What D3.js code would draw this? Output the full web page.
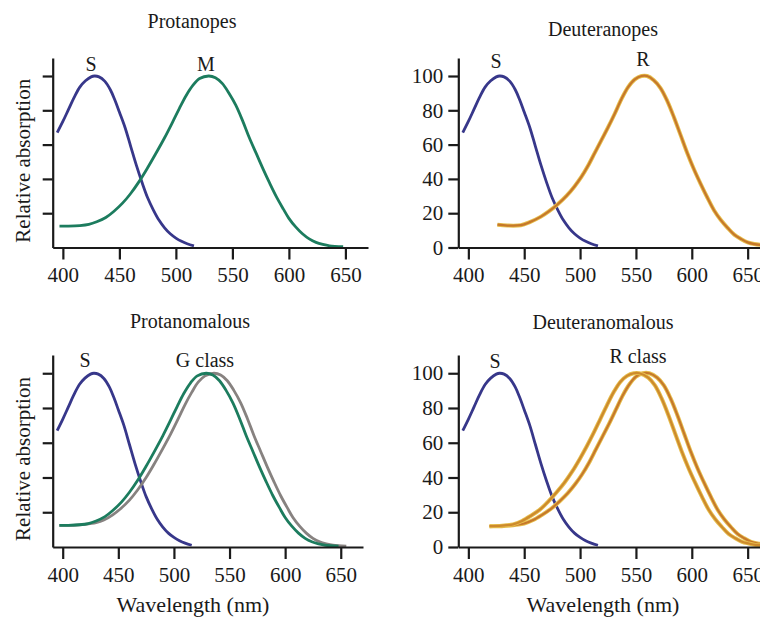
<!DOCTYPE html>
<html>
<head>
<meta charset="utf-8">
<script src="https://cdn.jsdelivr.net/npm/d3@7"></script>
<style>
  body { margin: 0; background: #fff; }
  text { font-family: 'Liberation Serif', 'Times New Roman', serif; fill: #1a1a1a; }
</style>
</head>
<body>
<svg id="chart" width="760" height="618"></svg>
<script>
'use strict'

// wavelength (nm), relative absorption (%)
const sCone = [[395, 67], [400, 73.5], [405, 80.5], [410, 87.5], [415, 93.5], [420, 97.2], [425, 99.5], [428, 100], [432, 99.5], [437, 97], [442, 92], [446, 86], [450, 79], [455, 70], [460, 59], [465, 48], [470, 38], [475, 29], [480, 22], [485, 16], [490, 11.5], [495, 8], [500, 5.5], [505, 3.6], [510, 2.2], [516, 1]]
const mCone = [[397, 12.5], [405, 12.5], [415, 12.8], [423, 13.5], [430, 15], [438, 17.5], [445, 21], [453, 26], [460, 31.5], [468, 39], [475, 46.5], [482, 54.5], [490, 64], [497, 73], [503, 81], [509, 88.5], [515, 94.5], [521, 98.5], [529, 100], [535, 99], [541, 95.7], [547, 90], [553, 83], [559, 74], [565, 64], [571, 55], [577, 46], [583, 37.5], [589, 29.5], [595, 22.5], [600, 17], [606, 12], [612, 8], [618, 5], [624, 3], [630, 1.8], [636, 1], [648, 0.5]]
const gClassShifted = [[397, 12.5], [410, 12.5], [420, 13], [430, 14], [437, 15.5], [445, 18.5], [452, 22], [460, 27], [467, 32.5], [475, 40], [482, 47.5], [489, 55.5], [497, 65], [504, 74], [510, 82], [516, 89], [522, 95], [528, 98.5], [536, 100], [542, 99], [548, 95.7], [554, 90], [560, 83], [566, 74], [572, 64], [578, 55], [584, 46], [590, 37.5], [596, 29.5], [602, 22.5], [607, 17], [613, 12], [619, 8], [625, 5], [631, 3], [637, 1.8], [643, 1], [655, 0.5]]
const rCone = [[426, 13.3], [435, 12.8], [447, 13], [455, 14.8], [465, 18], [472, 21], [480, 25.2], [488, 30.2], [495, 35.6], [501, 41], [507, 47.5], [513, 55], [519, 62.5], [525, 70], [531, 78], [537, 86.5], [543, 93.5], [549, 98], [555, 100], [560, 100], [566, 97.5], [572, 93], [578, 85.5], [584, 76], [590, 65.5], [596, 55], [602, 45.5], [608, 37], [614, 29], [620, 21.6], [626, 16], [632, 11.5], [638, 7.5], [644, 5], [650, 3], [656, 2], [662, 1.5]]
const rClassLeft = [[419, 12], [430, 12.3], [440, 13], [448, 15], [456, 18], [464, 21.5], [472, 26.5], [479, 31.5], [486, 37], [493, 43.5], [500, 51], [506, 58], [512, 65.5], [518, 73.5], [524, 81.5], [530, 89], [536, 95], [542, 98.5], [548, 100], [553, 100], [561, 97.5], [567, 93], [573, 85.5], [579, 76], [585, 65.5], [591, 55], [597, 45.5], [603, 37], [609, 29], [615, 21.6], [621, 16], [627, 11.5], [633, 7.5], [639, 5], [645, 3], [651, 2], [657, 1.2], [663, 1]]
const rClassRight = [[419, 12], [430, 12], [440, 12.5], [450, 13.5], [458, 15.5], [466, 18.5], [474, 22], [482, 26.5], [489, 31], [496, 36.5], [502, 42], [508, 48.5], [514, 56], [520, 63.5], [526, 71], [532, 79], [538, 87], [544, 93.5], [550, 98], [556, 100], [562, 100], [569, 97.5], [575, 93], [581, 85.5], [587, 76], [593, 65.5], [599, 55], [605, 45.5], [611, 37], [617, 29], [623, 21.6], [629, 16], [635, 11.5], [641, 7.5], [647, 5], [653, 3], [659, 2], [665, 1.5]]

const xTicks = [400, 450, 500, 550, 600, 650]
const yTicks = [0, 20, 40, 60, 80, 100]

const BLUE = '#37378a'
const GREEN = '#1c7c5e'
const GRAY = '#878280'
const ORANGE = '#c6782a'
const HALO = '#e6be4e'

const panels = [
  {
    title: 'Protanopes', titleX: 192, titleY: 28,
    left: 52.7, right: 368, top: 58, bottom: 247.5, yLabels: false,
    yTitle: true, xTitle: null,
    labels: [{ t: 'S', x: 91, y: 71 }, { t: 'M', x: 206, y: 71 }],
    curves: [{ d: sCone, c: BLUE }, { d: mCone, c: GREEN }]
  },
  {
    title: 'Deuteranopes', titleX: 603, titleY: 36,
    left: 458.3, right: 770, top: 58, bottom: 247.5, yLabels: true,
    yTitle: false, xTitle: null,
    labels: [{ t: 'S', x: 496, y: 68 }, { t: 'R', x: 643, y: 66 }],
    curves: [{ d: sCone, c: BLUE }, { d: rCone, c: ORANGE, halo: true }]
  },
  {
    title: 'Protanomalous', titleX: 190, titleY: 328,
    left: 52.7, right: 363, top: 355, bottom: 547, yLabels: false,
    yTitle: true, xTitle: 193,
    labels: [{ t: 'S', x: 85, y: 367 }, { t: 'G class', x: 205, y: 367 }],
    curves: [{ d: sCone, c: BLUE }, { d: gClassShifted, c: GRAY }, { d: mCone, c: GREEN }]
  },
  {
    title: 'Deuteranomalous', titleX: 603, titleY: 329,
    left: 458.3, right: 770, top: 355, bottom: 547, yLabels: true,
    yTitle: false, xTitle: 603,
    labels: [{ t: 'S', x: 495, y: 368 }, { t: 'R class', x: 638, y: 363 }],
    curves: [{ d: sCone, c: BLUE }, { d: rClassRight, c: ORANGE, halo: true }, { d: rClassLeft, c: '#cd8a2c', halo: true }]
  }
]

const svg = d3.select('#chart')

function drawPanel (p) {
  const x = d3.scaleLinear().domain([391, 670]).range([p.left, p.right])
  const y = d3.scaleLinear().domain([0, 110.5]).range([p.bottom, p.top])
  const g = svg.append('g')

  const line = d3.line()
    .x(d => x(d[0]))
    .y(d => y(d[1]))
    .curve(d3.curveCatmullRom.alpha(0.5))

  p.curves.forEach(c => {
    if (c.halo) {
      g.append('path').datum(c.d).attr('d', line)
        .attr('fill', 'none').attr('stroke', HALO).attr('stroke-width', 4)
    }
    g.append('path').datum(c.d).attr('d', line)
      .attr('fill', 'none').attr('stroke', c.c)
      .attr('stroke-width', c.halo ? 2.2 : 2.8)
      .attr('stroke-linejoin', 'round')
  })

  const xAxis = g.append('g')
    .attr('transform', `translate(0,${p.bottom})`)
    .call(d3.axisBottom(x).tickValues(xTicks).tickSize(12).tickPadding(8).tickSizeOuter(0))
  const yAxis = g.append('g')
    .attr('transform', `translate(${p.left},0)`)
    .call(d3.axisLeft(y).tickValues(p.yLabels ? yTicks : yTicks.slice(1))
      .tickSize(10).tickPadding(5).tickSizeOuter(0)
      .tickFormat(p.yLabels ? d3.format('d') : ''))

  ;[xAxis, yAxis].forEach(a => {
    a.select('.domain').attr('stroke', '#1a1a1a').attr('stroke-width', 2.2)
    a.selectAll('.tick line').attr('stroke', '#1a1a1a').attr('stroke-width', 2.2)
    a.selectAll('.tick text')
      .style('font-family', "'Liberation Serif', serif")
      .style('font-size', '21px')
      .attr('fill', '#1a1a1a')
  })

  g.append('text')
    .attr('x', p.titleX).attr('y', p.titleY)
    .attr('text-anchor', 'middle')
    .style('font-size', '20px')
    .text(p.title)

  g.selectAll('.clabel').data(p.labels).join('text')
    .attr('class', 'clabel')
    .attr('x', d => d.x).attr('y', d => d.y)
    .attr('text-anchor', 'middle')
    .style('font-size', '20px')
    .text(d => d.t)

  if (p.yTitle) {
    g.append('text')
      .attr('transform', `translate(30,${(p.top + p.bottom) / 2 + 8}) rotate(-90)`)
      .attr('text-anchor', 'middle')
      .style('font-size', '21px')
      .text('Relative absorption')
  }
  if (p.xTitle) {
    g.append('text')
      .attr('x', p.xTitle)
      .attr('y', 612)
      .attr('text-anchor', 'middle')
      .style('font-size', '22px')
      .text('Wavelength (nm)')
  }
}

panels.forEach(drawPanel)
</script>
</body>
</html>
